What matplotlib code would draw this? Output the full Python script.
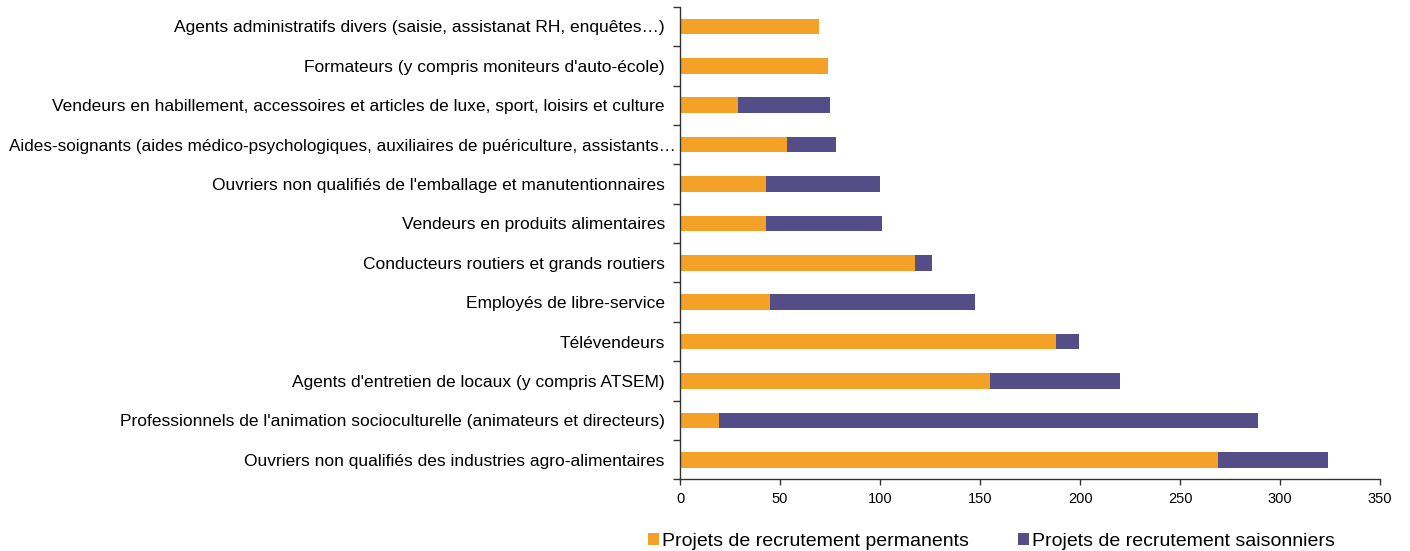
"""Recruitment projects by occupation: stacked horizontal bars."""

import matplotlib

matplotlib.use("Agg")
import matplotlib.pyplot as plt
import matplotlib.transforms as mtransforms
import numpy as np

plt.rcParams["font.family"] = ["Liberation Sans", "DejaVu Sans"]

# Categories from bottom to top
categories = [
    "Ouvriers non qualifiés des industries agro-alimentaires",
    "Professionnels de l'animation socioculturelle (animateurs et directeurs)",
    "Agents d'entretien de locaux (y compris ATSEM)",
    "Télévendeurs",
    "Employés de libre-service",
    "Conducteurs routiers et grands routiers",
    "Vendeurs en produits alimentaires",
    "Ouvriers non qualifiés de l'emballage et manutentionnaires",
    "Aides-soignants (aides médico-psychologiques, auxiliaires de puériculture, assistants\u2026",
    "Vendeurs en habillement, accessoires et articles de luxe, sport, loisirs et culture",
    "Formateurs (y compris moniteurs d'auto-école)",
    "Agents administratifs divers (saisie, assistanat RH, enquêtes\u2026)",
]
permanents = [269, 19.5, 155, 188, 45, 117.5, 43, 43, 53.5, 29, 74, 69.5]
saisonniers = [55, 269.5, 65, 11.5, 102.5, 8.5, 58, 57, 24.5, 46, 0, 0]

xticks = [0, 50, 100, 150, 200, 250, 300, 350]

ORANGE = "#F4A128"
PURPLE = "#554D88"
AXIS = "#333333"

fig = plt.figure(figsize=(14.10, 5.51), dpi=100)
ax = fig.add_axes([0.4823, 0.1298, 0.4965, 0.858])

y = np.arange(len(categories))
ax.barh(y, permanents, height=0.4, color=ORANGE, label="Projets de recrutement permanents")
ax.barh(y, saisonniers, left=permanents, height=0.4, color=PURPLE,
        label="Projets de recrutement saisonniers")

ax.set_xlim(0, 350)
ax.set_ylim(-0.5, len(categories) - 0.5)
ax.set_xticks(xticks)
ax.set_xticklabels([str(t) for t in xticks], fontsize=10.5)

# category labels on major ticks (no mark), tick marks on boundaries
ax.set_yticks(y)
ax.set_yticklabels(categories, fontsize=12.5)
ax.tick_params(axis="y", which="major", length=0, pad=11)
ax.set_yticks(np.arange(-0.5, len(categories)), minor=True)
ax.tick_params(axis="y", which="minor", length=5, width=1.0, color=AXIS)
ax.tick_params(axis="x", length=4, width=1.0, color=AXIS, pad=5)

for side in ["top", "right"]:
    ax.spines[side].set_visible(False)
for side in ["left", "bottom"]:
    ax.spines[side].set_linewidth(1.0)
    ax.spines[side].set_color(AXIS)

# the truncated label runs up to the axis, as in the source
long_label = ax.get_yticklabels()[8]
long_label.set_fontsize(12.35)
long_label.set_transform(long_label.get_transform()
                         + mtransforms.ScaledTranslation(0.11, 0, fig.dpi_scale_trans))

fig.legend(loc="center", bbox_to_anchor=(0.703, 0.018), ncol=2, frameon=False,
           fontsize=14, handlelength=0.55, handleheight=0.55, handletextpad=0.15,
           columnspacing=2.55, borderaxespad=0)

fig.savefig("out.png", dpi=100)
